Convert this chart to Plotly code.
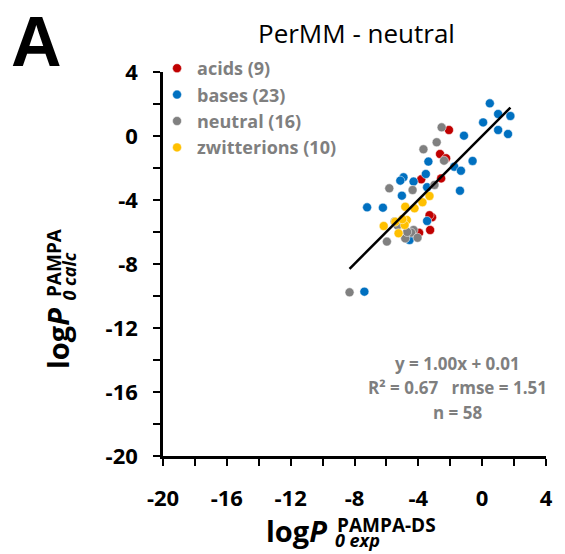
import plotly.graph_objects as go

# ---- data ----
acids_x = [-2.08, -2.64, -2.26, -3.82, -2.57, -3.14, -3.26, -3.95, -3.30]
acids_y = [0.375, -1.125, -1.39, -2.71, -2.65, -5.08, -5.875, -6.05, -4.95]

bases_x = [0.48, 1.00, 1.77, 0.06, 1.00, 1.62, -1.14, -0.60, -3.37, -1.75, -1.33, -3.53,
           -4.93, -5.13, -4.30, -3.45, -1.39, -5.03, -7.21, -6.22, -3.45, -4.55, -7.38]
bases_y = [2.04, 1.375, 1.25, 0.85, 0.375, 0.125, 0.02, -1.56, -1.60, -1.92, -2.17, -2.375,
           -2.58, -2.79, -2.85, -3.20, -3.42, -3.73, -4.46, -4.48, -5.31, -6.50, -9.73]

neutral_x = [-2.54, -2.85, -3.68, -2.39, -5.82, -4.36, -2.99, -5.49, -5.30, -4.30, -4.45,
             -4.82, -4.05, -5.97, -8.31, -4.70]
neutral_y = [0.54, -0.39, -0.83, -1.54, -3.27, -3.375, -3.06, -5.35, -5.60, -5.875, -6.04,
             -6.40, -6.36, -6.60, -9.77, -6.00]

zwit_x = [-3.30, -3.74, -4.82, -4.24, -4.72, -6.17, -5.44, -4.86, -5.24, -5.00]
zwit_y = [-3.75, -4.14, -4.42, -4.52, -5.25, -5.625, -5.36, -5.56, -6.08, -5.20]

series_names = ["acids (9)", "bases (23)", "neutral (16)", "zwitterions (10)"]
series_colors = ["#C00000", "#0070C0", "#808080", "#FFC000"]

slope = 1.00
intercept = 0.01
stats_lines = ["y = 1.00x + 0.01", "R\u00b2 = 0.67   rmse = 1.51", "n = 58"]

tick_vals = [-20, -16, -12, -8, -4, 0, 4]
tick_text = ["-20", "-16", "-12", "-8", "-4", "0", "4"]

# ---- figure ----
W, H = 565, 554
L, R, T, B = 163, 17, 72, 98
PW, PH = W - L - R, H - T - B


def px(xp):
    return (xp - L) / PW


def py(yp):
    return (H - B - yp) / PH


GRAY = "#7F7F7F"
FONT = "Open Sans"

fig = go.Figure()
all_x = acids_x + bases_x + neutral_x + zwit_x
for name, col, xs, ys in zip(series_names, series_colors,
                             [acids_x, bases_x, neutral_x, zwit_x],
                             [acids_y, bases_y, neutral_y, zwit_y]):
    fig.add_trace(go.Scatter(x=xs, y=ys, mode="markers", name=name,
                             marker=dict(size=9, color=col,
                                         line=dict(width=0.5, color="white"))))

xmin, xmax = min(all_x), max(all_x)
fig.add_trace(go.Scatter(x=[xmin, xmax], y=[slope * xmin + intercept, slope * xmax + intercept],
                         mode="lines", line=dict(color="black", width=2.5),
                         showlegend=False, hoverinfo="skip"))

axis_common = dict(range=[-20, 4], tickvals=tick_vals, ticktext=tick_text,
                   showgrid=False, zeroline=False, showline=True, linecolor="black",
                   linewidth=2.5, ticks="outside", ticklen=7, tickwidth=2,
                   tickcolor="black",
                   tickfont=dict(family=FONT, size=22, color="black", weight="bold"),
                   minor=dict(dtick=2, ticks="outside", ticklen=7, tickwidth=2,
                              tickcolor="black", showgrid=False),
                   fixedrange=True)

fig.update_xaxes(**axis_common, ticklabelstandoff=14)
fig.update_yaxes(**axis_common, ticklabelstandoff=11)

ann = []
# panel letter
ann.append(dict(text="<b>A</b>", x=px(36), y=py(42), xref="paper", yref="paper",
                showarrow=False, font=dict(family="Liberation Sans", size=70, color="black"),
                xanchor="center", yanchor="middle"))
# title
ann.append(dict(text="PerMM - neutral", x=px(358), y=py(33), xref="paper", yref="paper",
                showarrow=False, font=dict(family=FONT, size=26, color="black"),
                xanchor="center", yanchor="middle"))
# stats
for i, s in enumerate(stats_lines):
    ann.append(dict(text=s, x=px(459), y=py(363 + 24.5 * i), xref="paper", yref="paper",
                    showarrow=False, font=dict(family=FONT, size=17, color=GRAY, weight="bold"),
                    xanchor="center", yanchor="middle"))
# x title
ann.append(dict(text="log<i>P</i>", x=px(330), y=py(530), xref="paper", yref="paper",
                showarrow=False, font=dict(family=FONT, size=29, color="black", weight="bold"),
                xanchor="right", yanchor="middle"))
ann.append(dict(text="PAMPA-DS", x=px(336), y=py(525), xref="paper", yref="paper",
                showarrow=False, font=dict(family=FONT, size=19, color="black", weight="bold"),
                xanchor="left", yanchor="middle"))
ann.append(dict(text="<i>0 exp</i>", x=px(334), y=py(540), xref="paper", yref="paper",
                showarrow=False, font=dict(family=FONT, size=18, color="black", weight="bold"),
                xanchor="left", yanchor="middle"))
# y title (rotated)
ann.append(dict(text="log<i>P</i>", x=px(57), y=py(306), xref="paper", yref="paper",
                showarrow=False, textangle=-90,
                font=dict(family=FONT, size=29, color="black", weight="bold"),
                xanchor="center", yanchor="top"))
ann.append(dict(text="PAMPA", x=px(53), y=py(299), xref="paper", yref="paper",
                showarrow=False, textangle=-90,
                font=dict(family=FONT, size=19, color="black", weight="bold"),
                xanchor="center", yanchor="bottom"))
ann.append(dict(text="<i>0 calc</i>", x=px(69), y=py(302), xref="paper", yref="paper",
                showarrow=False, textangle=-90,
                font=dict(family=FONT, size=18, color="black", weight="bold"),
                xanchor="center", yanchor="bottom"))

fig.update_layout(
    width=W, height=H,
    margin=dict(l=L, r=R, t=T, b=B, pad=0),
    paper_bgcolor="white", plot_bgcolor="white",
    annotations=ann,
    showlegend=True,
    legend=dict(x=px(157), y=py(50), xref="paper", yref="paper",
                xanchor="left", yanchor="top", bgcolor="rgba(0,0,0,0)",
                font=dict(family=FONT, size=18, color=GRAY, weight="bold"),
                itemwidth=30, tracegroupgap=0, itemclick=False, itemdoubleclick=False),
)

fig.write_html("out.html", config={"displayModeBar": False})

# remove the default page margin so the figure sits at the window's top-left corner
with open("out.html", "r", encoding="utf-8") as f:
    html = f.read()
html = html.replace("<body>", '<body style="margin:0;padding:0;overflow:hidden;">', 1)
with open("out.html", "w", encoding="utf-8") as f:
    f.write(html)
